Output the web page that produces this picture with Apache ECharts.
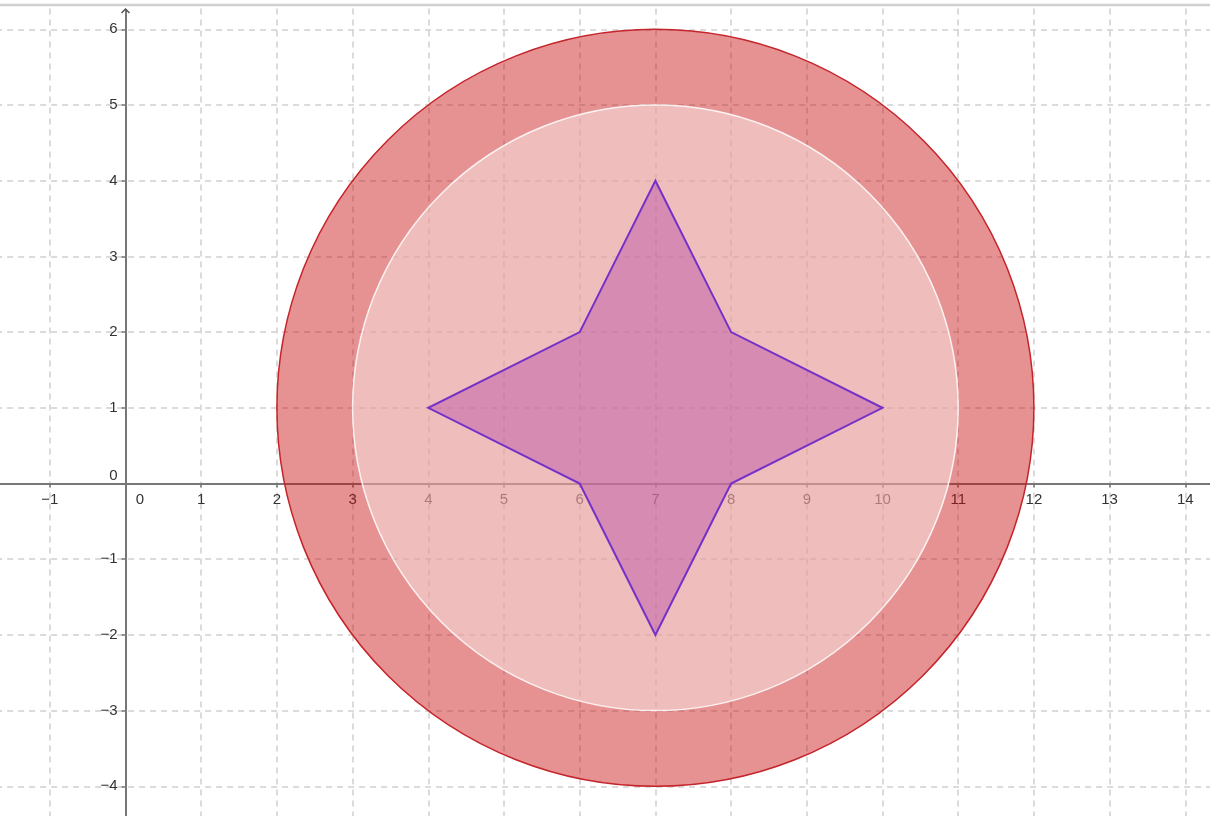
<!DOCTYPE html>
<html>
<head>
<meta charset="utf-8">
<script src="https://cdn.jsdelivr.net/npm/echarts@6.0.0/dist/echarts.min.js"></script>
<style>
html,body{margin:0;padding:0;background:#fff;}
#chart{width:1210px;height:816px;}
</style>
</head>
<body>
<div id="chart"></div>
<script>
// ---- data ----
const xRange = [-2, 15];
const yRange = [-5, 7];
const outerCircle = [[7, 1, 5]];   // cx, cy, r
const innerCircle = [[7, 1, 4]];
const starX = [7, 8, 10, 8, 7, 6, 4, 6];
const starY = [4, 2, 1, 0, -2, 0, 1, 2];

// ---- layout ----
const unit = 75.7, ox = 125.5, oy = 483.5;
const gridLeft = ox + xRange[0] * unit;
const gridTop = oy - yRange[1] * unit;
const gridW = (xRange[1] - xRange[0]) * unit;
const gridH = (yRange[1] - yRange[0]) * unit;

const starData = starX.map((x, i) => [x, starY[i]]);

function fmt(v) {
  if (v === 0) return '{z|0}';
  return String(v).replace('-', '\u2212');
}
const labelFont = {fontSize: 15, fontFamily: 'Liberation Sans, Arial, sans-serif', color: '#333'};
const splitStyle = {show: true, lineStyle: {color: '#d0d0d0', width: 1.5, type: [6, 5]}};
const axisLineStyle = {color: '#777', width: 2};
const tickStyle = {show: true, length: 4, lineStyle: {color: '#777', width: 1.5}};

function circleRender(fill, stroke, lw) {
  return function (params, api) {
    const c = api.coord([api.value(0), api.value(1)]);
    const r = api.size([api.value(2), 0])[0];
    return {type: 'circle', shape: {cx: c[0], cy: c[1], r: r},
      style: {fill: fill, stroke: stroke, lineWidth: lw}};
  };
}

const chart = echarts.init(document.getElementById('chart'), null, {renderer: 'canvas'});
chart.setOption({
  animation: false,
  backgroundColor: '#fff',
  grid: [
    {left: gridLeft, top: gridTop, width: gridW, height: gridH, containLabel: false, outerBoundsMode: 'none'},
    {left: gridLeft, top: gridTop, width: gridW, height: yRange[1] * unit, containLabel: false, outerBoundsMode: 'none'},
    {left: ox, top: gridTop, width: 100, height: gridH, containLabel: false, outerBoundsMode: 'none'}
  ],
  xAxis: [
    {gridIndex: 0, type: 'value', min: xRange[0], max: xRange[1], interval: 1,
      axisLine: {show: true, onZero: true, lineStyle: axisLineStyle},
      axisTick: tickStyle, axisLabel: {show: false}, splitLine: splitStyle},
    {gridIndex: 1, type: 'value', min: xRange[0], max: xRange[1], interval: 1, position: 'bottom',
      axisLine: {show: false, onZero: false}, axisTick: {show: false}, splitLine: {show: false},
      axisLabel: Object.assign({margin: 9, formatter: fmt,
        rich: {z: Object.assign({padding: [0, 0, 0, 29]}, labelFont)}}, labelFont)},
    {gridIndex: 2, type: 'value', min: 0, max: 1, show: false}
  ],
  yAxis: [
    {gridIndex: 0, type: 'value', min: yRange[0], max: yRange[1], interval: 1,
      axisLine: {show: true, onZero: true, lineStyle: axisLineStyle},
      axisTick: tickStyle, axisLabel: {show: false}, splitLine: splitStyle},
    {gridIndex: 1, type: 'value', min: 0, max: 1, show: false},
    {gridIndex: 2, type: 'value', min: yRange[0], max: yRange[1], interval: 1, position: 'left',
      axisLine: {show: false, onZero: false}, axisTick: {show: false}, splitLine: {show: false},
      axisLabel: Object.assign({margin: 8, formatter: fmt,
        rich: {z: Object.assign({padding: [0, 0, 15, 0]}, labelFont)}}, labelFont)}
  ],
  series: [
    {type: 'custom', name: 'outer', data: outerCircle, encode: {x: 0, y: 1}, z: 2,
      renderItem: circleRender('rgba(199,13,13,0.45)', '#c4242a', 1.5)},
    {type: 'custom', name: 'inner', data: innerCircle, encode: {x: 0, y: 1}, z: 3,
      renderItem: circleRender('rgba(255,255,255,0.4)', 'rgba(255,255,255,0.85)', 1.5)},
    {type: 'custom', name: 'star', data: starData, encode: {x: 0, y: 1}, z: 4,
      renderItem: function (params, api) {
        if (params.dataIndex !== 0) return;
        const pts = starData.map(p => api.coord(p));
        return {type: 'polygon', shape: {points: pts},
          style: {fill: 'rgba(170,60,160,0.38)', stroke: '#7530c8', lineWidth: 2, lineJoin: 'miter'}};
      }}
  ],
  graphic: [
    {type: 'rect', z: 100, shape: {x: 0, y: 0, width: 1210, height: 4}, style: {fill: '#fff'}},
    {type: 'rect', z: 100, shape: {x: 120, y: 4, width: 12, height: 5}, style: {fill: '#fff'}},
    {type: 'line', z: 101, shape: {x1: 0, y1: 5, x2: 1210, y2: 5}, style: {stroke: '#d0d0d0', lineWidth: 2.5}},
    {type: 'polyline', z: 101, shape: {points: [[121.5, 13], [125.5, 9], [129.5, 13]]},
      style: {stroke: '#555', lineWidth: 1.5, fill: null}}
  ]
});
</script>
</body>
</html>
